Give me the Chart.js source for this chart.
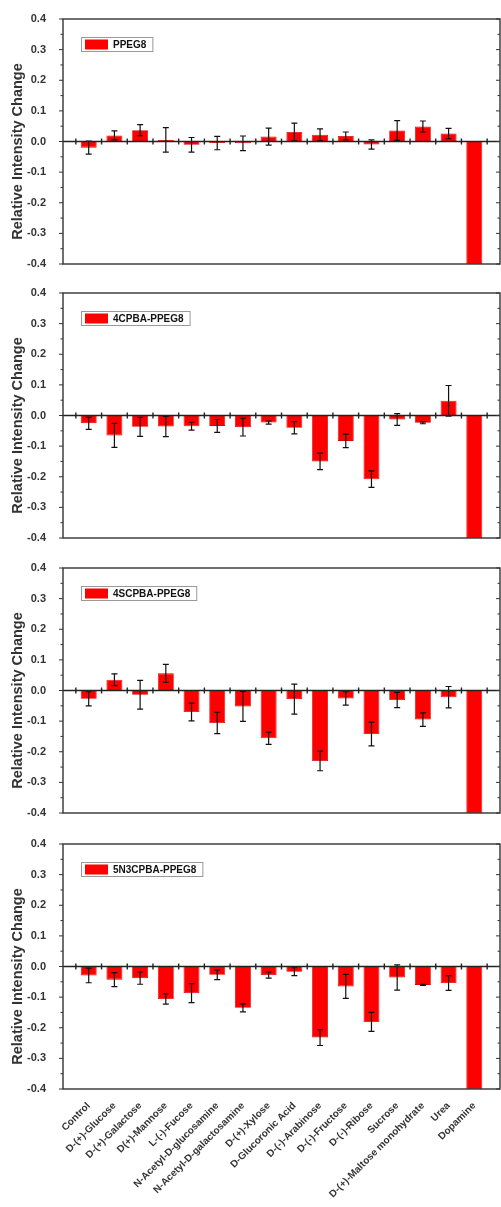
<!DOCTYPE html>
<html><head><meta charset="utf-8">
<script src="https://cdn.jsdelivr.net/npm/chart.js@4/dist/chart.umd.min.js"></script>
<style>
html,body{margin:0;padding:0;background:#fff;}
body{width:501px;height:1207px;position:relative;overflow:hidden;}
canvas{position:absolute;left:0;}
</style></head><body>
<canvas id="c1" width="501" height="265" style="top:5px"></canvas>
<canvas id="c2" width="501" height="265" style="top:279px"></canvas>
<canvas id="c3" width="501" height="265" style="top:554px"></canvas>
<canvas id="c4" width="501" height="377" style="top:830px"></canvas>
<script>
// ---- data ----
const categories = ['Control','D-(+)-Glucose','D-(+)-Galactose','D(+)-Mannose','L-(-)-Fucose',
  'N-Acetyl-D-glucosamine','N-Acetyl-D-galactosamine','D-(+)-Xylose','D-Glucoronic Acid',
  'D-(-)-Arabinose','D-(-)-Fructose','D-(-)-Ribose','Sucrose','D-(+)-Maltose monohydrate','Urea','Dopamine'];
const seriesNames = ['PPEG8','4CPBA-PPEG8','4SCPBA-PPEG8','5N3CPBA-PPEG8'];
const ppeg8      = [-0.020, 0.020, 0.037, 0.005,-0.011,-0.005,-0.006, 0.016, 0.031, 0.022, 0.018,-0.010, 0.036, 0.049, 0.026,-0.400];
const ppeg8Err   = [ 0.021, 0.015, 0.018, 0.040, 0.024, 0.022, 0.024, 0.028, 0.029, 0.019, 0.013, 0.015, 0.032, 0.018, 0.017, 0];
const cpba       = [-0.025,-0.065,-0.037,-0.036,-0.035,-0.034,-0.038,-0.023,-0.040,-0.150,-0.083,-0.208,-0.013,-0.024, 0.048,-0.400];
const cpbaErr    = [ 0.020, 0.039, 0.031, 0.033, 0.013, 0.021, 0.029, 0.005, 0.020, 0.027, 0.022, 0.027, 0.019, 0.003, 0.050, 0];
const scpba      = [-0.027, 0.035,-0.014, 0.056,-0.070,-0.106,-0.052,-0.156,-0.028,-0.230,-0.026,-0.142,-0.031,-0.095,-0.022,-0.400];
const scpbaErr   = [ 0.023, 0.019, 0.047, 0.029, 0.029, 0.035, 0.049, 0.020, 0.049, 0.032, 0.022, 0.039, 0.025, 0.022, 0.035, 0];
const n3cpba     = [-0.029,-0.043,-0.038,-0.106,-0.087,-0.027,-0.135,-0.028,-0.017,-0.232,-0.065,-0.181,-0.036,-0.060,-0.054,-0.400];
const n3cpbaErr  = [ 0.024, 0.023, 0.020, 0.017, 0.031, 0.016, 0.013, 0.010, 0.013, 0.026, 0.039, 0.031, 0.041, 0.002, 0.024, 0];
const yMin = -0.4, yMax = 0.4, yStep = 0.1;
const yTitle = 'Relative Intensity Change';

// ---- rendering ----
Chart.defaults.font.family = '"Liberation Sans", Arial, sans-serif';
Chart.defaults.color = '#333';
const labels = [''].concat(categories, ['']);
const pad = arr => [null].concat(arr, [null]);

const decor = {
  id: 'decor',
  afterDatasetsDraw(chart, args, opts) {
    const {ctx, chartArea: a, scales: {x, y}} = chart;
    const vals = chart.data.datasets[0].data;
    ctx.save();
    // error bars
    ctx.strokeStyle = '#111'; ctx.lineWidth = 1.2;
    vals.forEach((v, i) => {
      const e = opts.errors[i];
      if (v === null || !e) return;
      const px = x.getPixelForValue(i);
      const yt = y.getPixelForValue(v + e), yb = y.getPixelForValue(v - e);
      ctx.beginPath();
      ctx.moveTo(px, yt); ctx.lineTo(px, yb);
      ctx.moveTo(px - 3, yt); ctx.lineTo(px + 3, yt);
      ctx.moveTo(px - 3, yb); ctx.lineTo(px + 3, yb);
      ctx.stroke();
    });
    // zero axis with ticks between categories
    const y0 = y.getPixelForValue(0);
    ctx.strokeStyle = '#222'; ctx.lineWidth = 1.3;
    ctx.beginPath(); ctx.moveTo(a.left, y0); ctx.lineTo(a.right, y0); ctx.stroke();
    ctx.lineWidth = 1.4;
    for (let i = 0; i <= categories.length; i++) {
      const px = x.getPixelForValue(i + 0.5);
      ctx.beginPath(); ctx.moveTo(px, y0 - 3); ctx.lineTo(px, y0 + 3); ctx.stroke();
    }
    // frame
    ctx.strokeStyle = '#333'; ctx.lineWidth = 1.4;
    ctx.strokeRect(a.left, a.top, a.right - a.left, a.bottom - a.top);
    // y ticks (major + minor), left outward, right inward
    ctx.lineWidth = 1;
    for (let k = 0; k <= Math.round((yMax - yMin) / (yStep / 2)); k++) {
      const v = yMin + k * yStep / 2;
      const py = y.getPixelForValue(v);
      const len = (k % 2 === 0) ? 4 : 2.5;
      ctx.beginPath();
      ctx.moveTo(a.left - len, py); ctx.lineTo(a.left, py);
      ctx.moveTo(a.right - len, py); ctx.lineTo(a.right, py);
      ctx.stroke();
    }
    // legend
    ctx.font = 'bold 10px "Liberation Sans", Arial, sans-serif';
    const name = chart.data.datasets[0].label;
    const tw = ctx.measureText(name).width;
    const lx = a.left + 18, ly = a.top + 18, lh = 14;
    ctx.fillStyle = '#fff';
    ctx.fillRect(lx, ly, 33 + tw + 5, lh);
    ctx.strokeStyle = '#999'; ctx.lineWidth = 1;
    ctx.strokeRect(lx + 0.5, ly + 0.5, 33 + tw + 5, lh);
    ctx.fillStyle = '#ff0000';
    ctx.fillRect(lx + 4, ly + 2.5, 23, 10);
    ctx.fillStyle = '#111'; ctx.textBaseline = 'middle'; ctx.textAlign = 'left';
    ctx.fillText(name, lx + 32, ly + lh / 2 + 1);
    // y title
    ctx.translate(18, (a.top + a.bottom) / 2 + 10);
    ctx.rotate(-Math.PI / 2);
    ctx.font = 'bold 14.5px "Liberation Sans", Arial, sans-serif';
    ctx.fillStyle = '#333'; ctx.textAlign = 'center'; ctx.textBaseline = 'middle';
    ctx.fillText(yTitle, 0, 0);
    ctx.restore();
  }
};

function makePanel(id, name, values, errors, showX, xHeight) {
  new Chart(document.getElementById(id), {
    type: 'bar',
    data: {
      labels: labels,
      datasets: [{
        label: name,
        data: pad(values),
        backgroundColor: '#ff0000',
        borderColor: '#e00000',
        borderWidth: 0.8,
        barPercentage: 0.62,
        categoryPercentage: 1
      }]
    },
    options: {
      responsive: false,
      animation: false,
      events: [],
      layout: {padding: {top: 14, right: 1, left: 0, bottom: 0}},
      plugins: {legend: {display: false}, tooltip: {enabled: false}, decor: {errors: pad(errors)}},
      scales: {
        x: {
          type: 'category',
          offset: false,
          grid: {display: false},
          border: {display: false},
          ticks: {
            display: showX,
            autoSkip: false,
            minRotation: 45, maxRotation: 45,
            padding: 3,
            color: '#333',
            font: {size: 10, weight: 'bold'}
          },
          afterFit: s => { s.height = xHeight; s.paddingLeft = 0; s.paddingRight = 0; }
        },
        y: {
          min: yMin, max: yMax,
          grid: {display: false},
          border: {display: false},
          ticks: {
            stepSize: yStep,
            padding: 9,
            color: '#333',
            font: {size: 11, weight: 'bold'},
            callback: v => v.toFixed(1)
          },
          afterFit: s => { s.width = 63; s.paddingTop = 0; s.paddingBottom = 0; }
        }
      }
    },
    plugins: [decor]
  });
}

makePanel('c1', seriesNames[0], ppeg8, ppeg8Err, false, 6);
makePanel('c2', seriesNames[1], cpba, cpbaErr, false, 6);
makePanel('c3', seriesNames[2], scpba, scpbaErr, false, 6);
makePanel('c4', seriesNames[3], n3cpba, n3cpbaErr, true, 118);
</script>
</body></html>
